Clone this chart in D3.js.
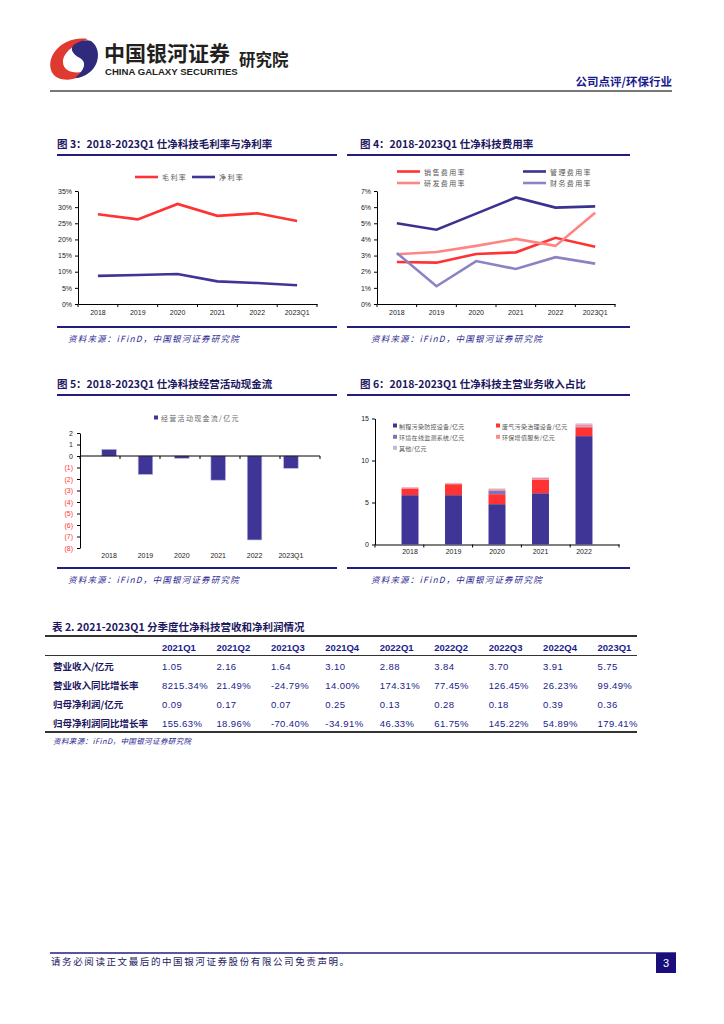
<!DOCTYPE html>
<html>
<head>
<meta charset="utf-8">
<script src="https://cdn.jsdelivr.net/npm/d3@7"></script>
<style>
body { margin: 0; background: #fff; }
text { font-family: "Liberation Sans", Arial, sans-serif; }
.cn { font-family: "Noto Sans CJK SC", sans-serif; }
</style>
</head>
<body>
<script>
// chart 3
const years = ['2018', '2019', '2020', '2021', '2022', '2023Q1'];
const grossMargin = [27.8, 26.2, 31.0, 27.3, 28.1, 25.7];
const netMargin = [8.7, 9.0, 9.3, 7.0, 6.5, 5.8];
const marginNames = ['毛利率', '净利率'];

// chart 4
const salesRate = [2.6, 2.56, 3.1, 3.2, 4.1, 3.55];
const adminRate = [5.0, 4.6, 5.6, 6.6, 5.97, 6.05];
const rdRate = [3.08, 3.22, 3.6, 4.03, 3.6, 5.66];
const finRate = [3.16, 1.1, 2.66, 2.17, 2.9, 2.5];
const expenseNames = ['销售费用率', '管理费用率', '研发费用率', '财务费用率'];

// chart 5
const cashFlow = [0.58, -1.6, -0.2, -2.1, -7.3, -1.07];
const cashName = '经营活动现金流/亿元';
const cashTicks = [2, 1, 0, -1, -2, -3, -4, -5, -6, -7, -8];

// chart 6
const bizYears = ['2018', '2019', '2020', '2021', '2022'];
const processEquip = [5.87, 5.87, 4.8, 6.1, 12.9];
const exhaustEquip = [0.8, 1.31, 1.19, 1.59, 1.05];
const monitorSys = [0, 0, 0.39, 0.05, 0.06];
const envService = [0.12, 0.1, 0.2, 0.2, 0.24];
const otherBiz = [0.03, 0.05, 0.08, 0.04, 0.16];
const bizNames = ['制程污染防控设备/亿元', '废气污染治理设备/亿元', '环境在线监测系统/亿元', '环保增值服务/亿元', '其他/亿元'];

// table 2
const quarters = ['2021Q1', '2021Q2', '2021Q3', '2021Q4', '2022Q1', '2022Q2', '2022Q3', '2022Q4', '2023Q1'];
const rowNames = ['营业收入/亿元', '营业收入同比增长率', '归母净利润/亿元', '归母净利润同比增长率'];
const revenue = ['1.05', '2.16', '1.64', '3.10', '2.88', '3.84', '3.70', '3.91', '5.75'];
const revenueYoY = ['8215.34%', '21.49%', '-24.79%', '14.00%', '174.31%', '77.45%', '126.45%', '26.23%', '99.49%'];
const netProfit = ['0.09', '0.17', '0.07', '0.25', '0.13', '0.28', '0.18', '0.39', '0.36'];
const netProfitYoY = ['155.63%', '18.96%', '-70.40%', '-34.91%', '46.33%', '61.75%', '145.22%', '54.89%', '179.41%'];

const navy = '#231d80';
const red = '#ff3333';
const purple = '#3f3596';
const source = '资料来源：iFinD，中国银河证券研究院';

const svg = d3.select('body').append('svg')
	.attr('width', 724)
	.attr('height', 1024);

// ---- header ----
svg.append('path')
	.attr('d', 'M88 39 C62 35 43 58 53 74 C60 83 79 81 89 70 C76 75 63 72 63 62 C63 52 75 44 88 39 Z')
	.attr('fill', '#e0392f');
svg.append('path')
	.attr('d', 'M91 41 C101 48 100 64 90 72 C85 76 80 78 75 78 C85 70 87 62 80 58 C72 54 69 48 75 44 C80 41 86 39 91 41 Z')
	.attr('fill', '#2f2a7c');
svg.append('text').attr('class', 'cn')
	.attr('x', 104).attr('y', 61)
	.attr('font-size', 21).attr('font-weight', 'bold').attr('fill', '#231f20')
	.text('中国银河证券');
svg.append('text')
	.attr('x', 105).attr('y', 75)
	.attr('font-size', 9.6).attr('font-weight', 'bold').attr('fill', '#231f20')
	.text('CHINA GALAXY SECURITIES');
svg.append('text').attr('class', 'cn')
	.attr('x', 239).attr('y', 66)
	.attr('font-size', 16.5).attr('font-weight', 'bold').attr('fill', '#231f20')
	.text('研究院');
svg.append('text').attr('class', 'cn')
	.attr('x', 672).attr('y', 86)
	.attr('text-anchor', 'end')
	.attr('font-size', 11.5).attr('font-weight', 'bold').attr('fill', '#1a1a8c')
	.text('公司点评/环保行业');
svg.append('line')
	.attr('x1', 50).attr('x2', 672).attr('y1', 91).attr('y2', 91)
	.attr('stroke', '#777').attr('stroke-width', 2);

// ---- panel frame: title, rules, source ----
function panel(x0, x1, tx, top, bottom, title){
	svg.append('text').attr('class', 'cn')
		.attr('x', tx).attr('y', top - 7)
		.attr('font-size', 10.5).attr('font-weight', 'bold').attr('fill', '#1c1760')
		.text(title);
	svg.append('line')
		.attr('x1', x0).attr('x2', x1).attr('y1', top).attr('y2', top)
		.attr('stroke', navy).attr('stroke-width', 2);
	svg.append('line')
		.attr('x1', x0).attr('x2', x1).attr('y1', bottom).attr('y2', bottom)
		.attr('stroke', navy).attr('stroke-width', 2);
	svg.append('text').attr('class', 'cn')
		.attr('x', tx + 11).attr('y', bottom + 15)
		.attr('font-size', 8.5).attr('font-style', 'italic').attr('letter-spacing', 1.2)
		.attr('fill', '#2a2590')
		.text(source);
}

function styleAxis(g){
	g.selectAll('text').attr('font-size', 7).attr('fill', '#222');
	g.selectAll('line').attr('stroke', '#000');
	g.select('.domain').attr('stroke', '#000');
}

function boundaryTicks(x, yPos, n){
	svg.append('g').selectAll('line')
		.data(d3.range(n + 1))
		.join('line')
		.attr('x1', i => x.range()[0] + i * x.step())
		.attr('x2', i => x.range()[0] + i * x.step())
		.attr('y1', yPos).attr('y2', yPos + 3)
		.attr('stroke', '#000');
}

function lineChart(opt){
	const x = d3.scaleBand().domain(years).range([opt.left, opt.right]);
	const y = d3.scaleLinear().domain([0, opt.max]).range([opt.bottom, opt.top]);

	svg.append('g')
		.attr('transform', `translate(${opt.left},0)`)
		.call(d3.axisLeft(y).tickValues(d3.range(0, opt.max + 0.01, opt.step))
			.tickSize(3).tickSizeOuter(0).tickPadding(3).tickFormat(d => d + '%'))
		.call(styleAxis);
	svg.append('g')
		.attr('transform', `translate(0,${opt.bottom})`)
		.call(d3.axisBottom(x).tickSize(0).tickPadding(6))
		.call(styleAxis);
	boundaryTicks(x, opt.bottom, years.length);

	const line = d3.line()
		.x((d, i) => x(years[i]) + x.bandwidth() / 2)
		.y(d => y(d));

	opt.series.forEach(function(s){
		svg.append('path')
			.datum(s.values)
			.attr('d', line)
			.attr('fill', 'none')
			.attr('stroke', s.color)
			.attr('stroke-width', 2.6);
		svg.append('line')
			.attr('x1', s.lx).attr('x2', s.lx + 23).attr('y1', s.ly).attr('y2', s.ly)
			.attr('stroke', s.color).attr('stroke-width', 2.6);
		svg.append('text').attr('class', 'cn')
			.attr('x', s.lx + 27).attr('y', s.ly + 3)
			.attr('font-size', 7).attr('letter-spacing', 1.4).attr('fill', '#555')
			.text(s.name);
	});
}

// ---- chart 3 ----
panel(57, 337, 57, 155, 327, '图 3：2018-2023Q1 仕净科技毛利率与净利率');
lineChart({
	left: 78, right: 317, top: 191, bottom: 304, max: 35, step: 5,
	series: [
		{ name: marginNames[0], values: grossMargin, color: red, lx: 135, ly: 177 },
		{ name: marginNames[1], values: netMargin, color: purple, lx: 192, ly: 177 }
	]
});

// ---- chart 4 ----
panel(347, 630, 360, 155, 327, '图 4：2018-2023Q1 仕净科技费用率');
lineChart({
	left: 377, right: 615, top: 191, bottom: 304, max: 7, step: 1,
	series: [
		{ name: expenseNames[0], values: salesRate, color: red, lx: 397, ly: 171.5 },
		{ name: expenseNames[1], values: adminRate, color: '#3b3290', lx: 523, ly: 171.5 },
		{ name: expenseNames[2], values: rdRate, color: '#ff8585', lx: 397, ly: 183 },
		{ name: expenseNames[3], values: finRate, color: '#8a84c2', lx: 523, ly: 183 }
	]
});

// ---- chart 5 ----
panel(57, 337, 57, 395, 568, '图 5：2018-2023Q1 仕净科技经营活动现金流');
{
	const x = d3.scaleBand().domain(years).range([80, 320]).padding(0.6);
	const y = d3.scaleLinear().domain([-8, 2]).range([548, 433]);

	svg.append('g')
		.attr('transform', 'translate(80,0)')
		.call(d3.axisLeft(y).tickValues(cashTicks).tickSize(3).tickSizeOuter(0).tickPadding(4)
			.tickFormat(d => d < 0 ? '(' + (-d) + ')' : d))
		.call(styleAxis)
		.selectAll('.tick text')
		.attr('fill', d => d < 0 ? '#ff3333' : '#222');

	svg.selectAll('.cashbar')
		.data(cashFlow)
		.join('rect')
		.attr('class', 'cashbar')
		.attr('x', (d, i) => x(years[i]))
		.attr('width', x.bandwidth())
		.attr('y', d => y(Math.max(0, d)))
		.attr('height', d => Math.abs(y(d) - y(0)))
		.attr('fill', purple)
		.attr('stroke', '#b9b5e0').attr('stroke-width', 0.6);

	svg.append('line')
		.attr('x1', 80).attr('x2', 320).attr('y1', y(0)).attr('y2', y(0))
		.attr('stroke', '#000');
	boundaryTicks(d3.scaleBand().domain(years).range([80, 320]), y(0), years.length);

	svg.append('g')
		.attr('transform', 'translate(0,548)')
		.call(d3.axisBottom(x).tickSize(0).tickPadding(5))
		.call(styleAxis)
		.select('.domain').remove();

	svg.append('rect').attr('x', 154).attr('y', 415.5).attr('width', 4).attr('height', 4).attr('fill', purple);
	svg.append('text').attr('class', 'cn')
		.attr('x', 161).attr('y', 420.5)
		.attr('font-size', 7).attr('letter-spacing', 1.3).attr('fill', '#666')
		.text(cashName);
}

// ---- chart 6 ----
panel(347, 630, 360, 395, 568, '图 6：2018-2023Q1 仕净科技主营业务收入占比');
{
	const rows = bizYears.map((yr, i) => ({
		year: yr,
		a: processEquip[i], b: exhaustEquip[i], c: monitorSys[i], d: envService[i], e: otherBiz[i]
	}));
	const keys = ['a', 'b', 'c', 'd', 'e'];
	const colors = [purple, red, '#7b74be', '#ff8a8a', '#bdb8e0'];
	const stacked = d3.stack().keys(keys)(rows);

	const x = d3.scaleBand().domain(bizYears).range([375, 619]).padding(0.61);
	const y = d3.scaleLinear().domain([0, 15]).range([544.5, 418.5]);

	svg.append('g')
		.attr('transform', 'translate(375,0)')
		.call(d3.axisLeft(y).tickValues([0, 5, 10, 15]).tickSize(3).tickSizeOuter(0).tickPadding(3))
		.call(styleAxis);
	svg.append('g')
		.attr('transform', 'translate(0,544.5)')
		.call(d3.axisBottom(x).tickSize(0).tickPadding(5))
		.call(styleAxis);
	boundaryTicks(d3.scaleBand().domain(bizYears).range([375, 619]), 544.5, bizYears.length);

	stacked.forEach(function(layer, k){
		svg.append('g').selectAll('rect')
			.data(layer)
			.join('rect')
			.attr('x', d => x(d.data.year))
			.attr('width', x.bandwidth())
			.attr('y', d => y(d[1]))
			.attr('height', d => y(d[0]) - y(d[1]))
			.attr('fill', colors[k]);
	});

	const legendPos = [[393, 426], [496, 426], [393, 437.3], [496, 437.3], [393, 448.3]];
	bizNames.forEach(function(name, k){
		svg.append('rect')
			.attr('x', legendPos[k][0]).attr('y', legendPos[k][1] - 2.5)
			.attr('width', 4).attr('height', 4).attr('fill', colors[k]);
		svg.append('text').attr('class', 'cn')
			.attr('x', legendPos[k][0] + 6).attr('y', legendPos[k][1] + 2.5)
			.attr('font-size', 6).attr('letter-spacing', 0.3).attr('fill', '#555')
			.text(name);
	});
}

// ---- table 2 ----
svg.append('text').attr('class', 'cn')
	.attr('x', 52).attr('y', 631)
	.attr('font-size', 10.5).attr('font-weight', 'bold').attr('fill', '#1c1760')
	.text('表 2. 2021-2023Q1 分季度仕净科技营收和净利润情况');
svg.append('line').attr('x1', 45).attr('x2', 637).attr('y1', 636).attr('y2', 636)
	.attr('stroke', '#333').attr('stroke-width', 1.8);
svg.append('line').attr('x1', 45).attr('x2', 637).attr('y1', 655.5).attr('y2', 655.5)
	.attr('stroke', '#333').attr('stroke-width', 1);
svg.append('line').attr('x1', 45).attr('x2', 637).attr('y1', 732).attr('y2', 732)
	.attr('stroke', '#333').attr('stroke-width', 1.8);

const colX = d3.scaleBand().domain(quarters).range([162, 652]);
const rowY = d3.scalePoint().domain(rowNames).range([665.5, 722.5]);
const tableRows = [revenue, revenueYoY, netProfit, netProfitYoY];

svg.append('g').selectAll('text')
	.data(quarters)
	.join('text')
	.attr('x', d => colX(d))
	.attr('y', 650.5)
	.attr('font-size', 9.5).attr('font-weight', 'bold').attr('fill', '#1a1a8c')
	.text(d => d);

svg.append('g').selectAll('text')
	.data(rowNames)
	.join('text')
	.attr('class', 'cn')
	.attr('x', 53)
	.attr('y', d => rowY(d) + 4)
	.attr('font-size', 9.5).attr('font-weight', 'bold').attr('fill', '#1c1760')
	.text(d => d);

tableRows.forEach(function(vals, r){
	svg.append('g').selectAll('text')
		.data(vals)
		.join('text')
		.attr('x', (d, i) => colX(quarters[i]))
		.attr('y', rowY(rowNames[r]) + 4)
		.attr('font-size', 9.5).attr('letter-spacing', 0.4).attr('fill', '#1a1a8c')
		.text(d => d);
});

svg.append('text').attr('class', 'cn')
	.attr('x', 53).attr('y', 744)
	.attr('font-size', 7.5).attr('font-style', 'italic').attr('letter-spacing', 0.4)
	.attr('fill', '#2a2590')
	.text(source);

// ---- footer ----
svg.append('line').attr('x1', 50).attr('x2', 676).attr('y1', 953).attr('y2', 953)
	.attr('stroke', navy).attr('stroke-width', 1.5);
svg.append('text').attr('class', 'cn')
	.attr('x', 51).attr('y', 965)
	.attr('font-size', 9.5).attr('letter-spacing', 1.6).attr('fill', '#1c1760')
	.text('请务必阅读正文最后的中国银河证券股份有限公司免责声明。');
svg.append('rect').attr('x', 656).attr('y', 953).attr('width', 20).attr('height', 20)
	.attr('fill', '#1a0f7a');
svg.append('text')
	.attr('x', 666).attr('y', 967).attr('text-anchor', 'middle')
	.attr('font-size', 11).attr('fill', '#fff')
	.text('3');
</script>
</body>
</html>
